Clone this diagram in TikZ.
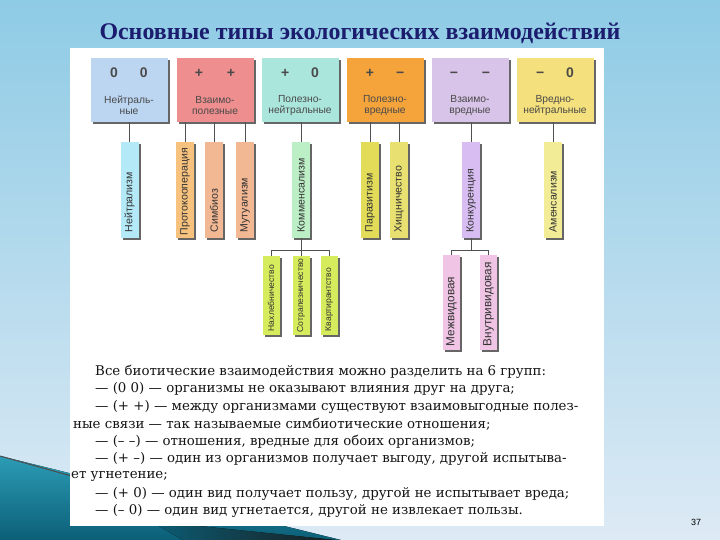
\documentclass[tikz,border=0pt]{standalone}
\usepackage{fontspec}
\setmainfont{DejaVu Serif}
\newfontfamily\hdrfont{Liberation Sans}
\newfontfamily\ttlfont{Liberation Serif}
\usetikzlibrary{shadows}
\definecolor{bgtop}{HTML}{8ECBE5}
\definecolor{bgbot}{HTML}{DDEAF5}
\definecolor{wlight}{HTML}{2C9CB6}
\definecolor{wdark}{HTML}{0B5E76}
\definecolor{ttl}{HTML}{1C1C6E}
\definecolor{hA}{HTML}{BCD6F2}
\definecolor{hB}{HTML}{EE8E8E}
\definecolor{hC}{HTML}{ABE6DC}
\definecolor{hD}{HTML}{F5A43C}
\definecolor{hE}{HTML}{D8C4E8}
\definecolor{hF}{HTML}{F4E07C}
\definecolor{cNeu}{HTML}{B4EAF8}
\definecolor{cPro}{HTML}{F6C27E}
\definecolor{cSym}{HTML}{F2B894}
\definecolor{cKom}{HTML}{BDEFC6}
\definecolor{cPar}{HTML}{E2DC58}
\definecolor{cHis}{HTML}{E8E070}
\definecolor{cKon}{HTML}{D8BDF2}
\definecolor{cAme}{HTML}{F2EC96}
\definecolor{cSub}{HTML}{D6EC5C}
\definecolor{cPink}{HTML}{EFC4E4}
\definecolor{txtgray}{HTML}{4A4A4A}
\definecolor{lineg}{HTML}{505050}
\begin{document}
\begin{tikzpicture}[x=1bp,y=-1bp,
  shad/.style={drop shadow={shadow xshift=2bp,shadow yshift=-2bp,fill=black!70,opacity=0.85}},
  hdr/.style={shad,minimum width=77bp,minimum height=64bp,inner sep=0},
  sign/.style={font=\hdrfont\bfseries\fontsize{14}{14}\selectfont,text=txtgray,inner sep=0,anchor=base},
  hname/.style={font=\hdrfont\fontsize{10.3}{11.5}\selectfont,text=txtgray,align=center,inner sep=0},
  vbox/.style={shad,minimum width=18bp,minimum height=96bp,inner sep=0,anchor=north},
  sbox/.style={shad,minimum width=17bp,minimum height=79bp,inner sep=0,anchor=north},
  pbox/.style={shad,minimum width=17bp,minimum height=95bp,inner sep=0,anchor=north},
  vtext/.style={font=\hdrfont\fontsize{10.6}{11}\selectfont,text=black!80,rotate=90,anchor=west,inner sep=0},
  stext/.style={vtext,font=\hdrfont\fontsize{8.6}{10}\selectfont},
  ptext/.style={vtext,font=\hdrfont\fontsize{11.8}{12}\selectfont},
  conn/.style={draw=lineg,line width=0.9bp},
  body/.style={font=\fontsize{13.4}{15}\selectfont,text=black!92,anchor=west,inner sep=0}]
\useasboundingbox (0,0) rectangle (720,540);
% background
\fill[top color=bgtop,bottom color=bgbot] (0,0) rectangle (720,540);
% bottom-left wedge
\fill[top color=wlight,bottom color=wdark] (0,456) -- (345,541) -- (0,541) -- cycle;
\fill[left color=wdark,right color=black!90] (150,521) -- (345,541) -- (185,541) -- cycle;
\draw[black!70,line width=1bp] (0,456) -- (75,477);
% panel
\fill[white] (70,48) rectangle (604,526);
% title
\node[font=\ttlfont\bfseries\fontsize{24}{26}\selectfont,text=ttl,inner sep=0] (title) at (360,33) {Основные типы экологических взаимодействий};
% header boxes
\node[hdr,fill=hA] (h1) at (129,90) {};
\node[hdr,fill=hB] (h2) at (215,90) {};
\node[hdr,fill=hC] (h3) at (300,90) {};
\node[hdr,fill=hD] (h4) at (385,90) {};
\node[hdr,fill=hE] (h5) at (470,90) {};
\node[hdr,fill=hF] (h6) at (555,90) {};
\node[sign] (h1s) at (129,78) {0\hspace{22bp}0};
\node[sign] (h2s) at (215,78) {+\hspace{24bp}+};
\node[sign] (h3s) at (300,78) {+\hspace{22bp}0};
\node[sign] (h4s) at (385,78) {+\hspace{22bp}−};
\node[sign] (h5s) at (470,78) {−\hspace{24bp}−};
\node[sign] (h6s) at (555,78) {−\hspace{22bp}0};
\node[hname] (h1n) at (129,105.5) {Нейтраль-\\ные};
\node[hname] (h2n) at (215,105.5) {Взаимо-\\полезные};
\node[hname] (h3n) at (300,105.5) {Полезно-\\нейтральные};
\node[hname] (h4n) at (385,105.5) {Полезно-\\вредные};
\node[hname] (h5n) at (470,105.5) {Взаимо-\\вредные};
\node[hname] (h6n) at (555,105.5) {Вредно-\\нейтральные};
% second level
\node[vbox,fill=cNeu] (v1) at (129.5,142) {};
\node[vbox,fill=cPro] (v2) at (185,142) {};
\node[vbox,fill=cSym] (v3) at (214,142) {};
\node[vbox,fill=cSym] (v4) at (245,142) {};
\node[vbox,fill=cKom] (v5) at (301,142) {};
\node[vbox,fill=cPar] (v6) at (370,142) {};
\node[vbox,fill=cHis] (v7) at (399,142) {};
\node[vbox,fill=cKon] (v8) at (471,142) {};
\node[vbox,fill=cAme] (v9) at (553,142) {};
\node[vtext] (v1t) at ([yshift=6bp]v1.south) {Нейтрализм};
\node[vtext] (v2t) at ([yshift=3bp]v2.south) {Протокооперация};
\node[vtext] (v3t) at ([yshift=6bp]v3.south) {Симбиоз};
\node[vtext] (v4t) at ([yshift=6bp]v4.south) {Мутуализм};
\node[vtext] (v5t) at ([yshift=6bp]v5.south) {Комменсализм};
\node[vtext] (v6t) at ([yshift=6bp]v6.south) {Паразитизм};
\node[vtext] (v7t) at ([yshift=6bp]v7.south) {Хищничество};
\node[vtext] (v8t) at ([yshift=6bp]v8.south) {Конкуренция};
\node[vtext] (v9t) at ([yshift=6bp]v9.south) {Аменсализм};
% third level
\node[sbox,fill=cSub] (s1) at (271,256) {};
\node[sbox,fill=cSub] (s2) at (301,256) {};
\node[sbox,fill=cSub] (s3) at (329,256) {};
\node[pbox,fill=cPink] (p1) at (451.5,255) {};
\node[pbox,fill=cPink] (p2) at (488.5,255) {};
\node[stext] (s1t) at ([yshift=4bp]s1.south) {Нахлебничество};
\node[stext] (s2t) at ([yshift=3bp]s2.south) {Сотрапезничество};
\node[stext] (s3t) at ([yshift=4bp]s3.south) {Квартирантство};
\node[ptext] (p1t) at ([yshift=4bp]p1.south) {Межвидовая};
\node[ptext] (p2t) at ([yshift=4bp]p2.south) {Внутривидовая};
% connectors
\draw[conn] (h1.south -| v1.north) -- (v1.north);
\draw[conn] (h2.south -| v2.north) -- (v2.north);
\draw[conn] (h2.south -| v3.north) -- (v3.north);
\draw[conn] (h2.south -| v4.north) -- (v4.north);
\draw[conn] (h3.south -| v5.north) -- (v5.north);
\draw[conn] (h4.south -| v6.north) -- (v6.north);
\draw[conn] (h4.south -| v7.north) -- (v7.north);
\draw[conn] (h5.south -| v8.north) -- (v8.north);
\draw[conn] (h6.south -| v9.north) -- (v9.north);
\coordinate (kbar) at (301,250);
\draw[conn] (v5.south) -- (s2.north);
\draw[conn] (s1.north) -- (s1.north |- kbar) -- (s3.north |- kbar) -- (s3.north);
\draw[conn] (v8.south) -- (v8.south |- kbar);
\draw[conn] (p1.north) -- (p1.north |- kbar) -- (p2.north |- kbar) -- (p2.north);
% text
\node[body] (t1) at (95,372) {Все биотические взаимодействия можно разделить на 6 групп:};
\node[body] (t2) at (95,389.4) {— (0 0) — организмы не оказывают влияния друг на друга;};
\node[body] (t3) at (95,406.8) {— (+ +) — между организмами существуют взаимовыгодные полез-};
\node[body] (t4) at (73,424.2) {ные связи — так называемые симбиотические отношения;};
\node[body] (t5) at (95,441.6) {— (– –) — отношения, вредные для обоих организмов;};
\node[body] (t6) at (95,459) {— (+ –) — один из организмов получает выгоду, другой испытыва-};
\node[body] (t7) at (71,476.4) {ет угнетение;};
\node[body] (t8) at (95,493.8) {— (+ 0) — один вид получает пользу, другой не испытывает вреда;};
\node[body] (t9) at (95,511.2) {— (– 0) — один вид угнетается, другой не извлекает пользы.};
\node[font=\hdrfont\fontsize{9}{10}\selectfont,inner sep=0] (pg) at (696,522) {37};
\end{tikzpicture}
\end{document}
